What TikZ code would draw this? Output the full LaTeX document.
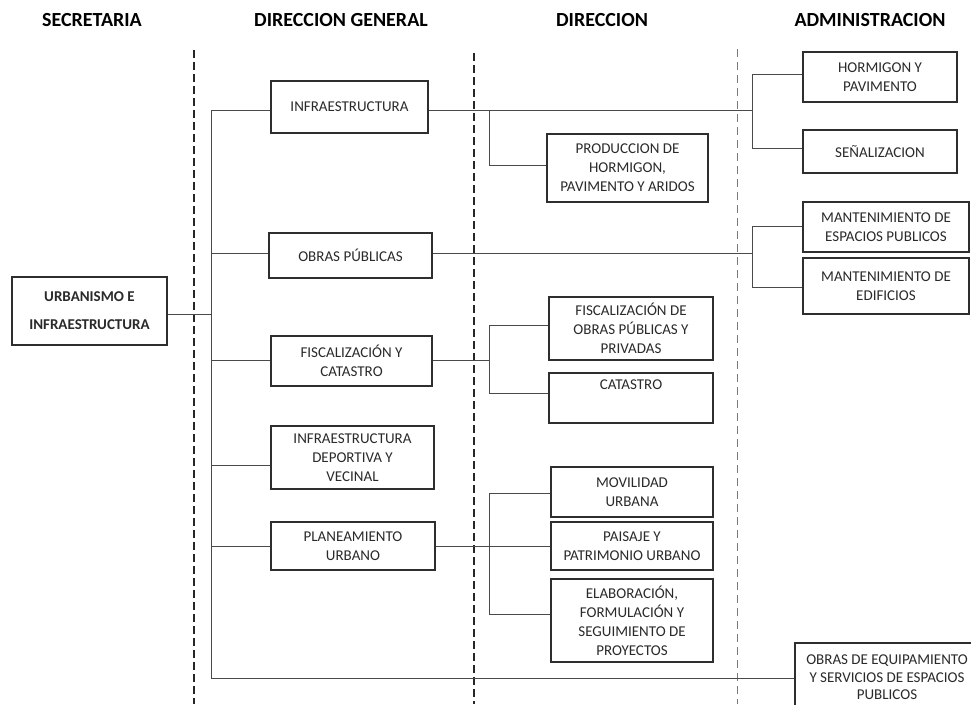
\documentclass[tikz,border=0pt]{standalone}
\usepackage{fontspec}
\setmainfont{Carlito}
\definecolor{boxc}{HTML}{2E2E2E}
\definecolor{connc}{HTML}{4A4A4A}
\definecolor{txtc}{HTML}{2A2A2A}
\definecolor{dashlight}{HTML}{7A7A7A}
\begin{document}
\begin{tikzpicture}[x=1pt,y=-1pt,
  box/.style={draw=boxc, line width=1.2pt, inner sep=0pt, align=center, text=txtc,
    font=\fontsize{15}{19}\selectfont},
  conn/.style={draw=connc, line width=1pt},
  head/.style={font=\fontsize{20}{24}\selectfont\bfseries, text=black, inner sep=0pt},
  divdark/.style={draw=black!85, line width=1.3pt, dash pattern=on 8pt off 4pt},
  divlight/.style={draw=dashlight, line width=1pt, dash pattern=on 8pt off 5pt}]
\useasboundingbox (0,0) rectangle (971,704);
\clip (0,0) rectangle (971,704);
\fill[white] (0,0) rectangle (971,704);

% headers
\node[head] (hSec) at (92,20) {SECRETARIA};
\node[head] (hDG) at (341,20) {DIRECCION GENERAL};
\node[head] (hDir) at (602,20) {DIRECCION};
\node[head] (hAdm) at (870,20) {ADMINISTRACION};

% column dividers
\draw[divdark] (194,50) -- (194,704);
\draw[divdark] (474,53) -- (474,704);
\draw[divlight] (737,49) -- (737,704);

% boxes
\node[box, font=\fontsize{15}{28}\selectfont\bfseries, minimum width=155, minimum height=68] (urb) at (89.5,311) {URBANISMO E\\INFRAESTRUCTURA};

\node[box, minimum width=157, minimum height=52] (dg1) at (349.5,107) {INFRAESTRUCTURA};
\node[box, minimum width=163, minimum height=45] (dg2) at (350.5,255.5) {OBRAS PÚBLICAS};
\node[box, minimum width=161, minimum height=50] (dg3) at (351.5,361) {FISCALIZACIÓN Y\\CATASTRO};
\node[box, minimum width=163, minimum height=63] (dg4) at (352.5,457.5) {INFRAESTRUCTURA\\DEPORTIVA Y\\VECINAL};
\node[box, minimum width=164, minimum height=48] (dg5) at (353,546) {PLANEAMIENTO\\URBANO};

\node[box, minimum width=161, minimum height=68] (d1) at (627.5,168) {PRODUCCION DE\\HORMIGON,\\PAVIMENTO Y ARIDOS};
\node[box, minimum width=164, minimum height=63] (d2) at (631,328.5) {FISCALIZACIÓN DE\\OBRAS PÚBLICAS Y\\PRIVADAS};
\node[box, minimum width=164, minimum height=50] (d3) at (631,398) {CATASTRO\\[8pt]};
\node[box, minimum width=162, minimum height=50] (d4) at (632,492) {MOVILIDAD\\URBANA};
\node[box, minimum width=162, minimum height=48] (d5) at (632,546) {PAISAJE Y\\PATRIMONIO URBANO};
\node[box, minimum width=162, minimum height=83] (d6) at (632,620.5) {ELABORACIÓN,\\FORMULACIÓN Y\\SEGUIMIENTO DE\\PROYECTOS};

\node[box, minimum width=154, minimum height=50] (a1) at (880,77) {HORMIGON Y\\PAVIMENTO};
\node[box, minimum width=154, minimum height=43] (a2) at (880,151.5) {SEÑALIZACION};
\node[box, minimum width=166, minimum height=50] (a3) at (886,227) {MANTENIMIENTO DE\\ESPACIOS PUBLICOS};
\node[box, minimum width=166, minimum height=56] (a4) at (886,286) {MANTENIMIENTO DE\\EDIFICIOS};
\node[box, minimum width=184, minimum height=77] (a5) at (887,681.5) {};
\node[align=center, text=txtc, inner sep=0pt, font=\fontsize{15}{17.5}\selectfont] (a5t) at (887,677.5) {OBRAS DE EQUIPAMIENTO\\Y SERVICIOS DE ESPACIOS\\PUBLICOS};

% main trunk
\coordinate (j0) at (211,314);
\coordinate (t1) at (211,110);
\coordinate (t2) at (211,253);
\coordinate (t3) at (211,360);
\coordinate (t4) at (211,465);
\coordinate (t5) at (211,546);
\coordinate (tB) at (211,678);
\draw[conn] (urb.east |- j0) -- (j0);
\draw[conn] (t1) -- (tB) -- (a5.west |- tB);
\draw[conn] (t1) -- (dg1.west |- t1);
\draw[conn] (t2) -- (dg2.west |- t2);
\draw[conn] (t3) -- (dg3.west |- t3);
\draw[conn] (t4) -- (dg4.west |- t4);
\draw[conn] (t5) -- (dg5.west |- t5);

% infraestructura branch
\coordinate (s1) at (489,110);
\coordinate (p1) at (489,165);
\coordinate (aT1) at (752,110);
\coordinate (a1j) at (752,74);
\coordinate (a2j) at (752,148);
\draw[conn] (dg1.east |- aT1) -- (aT1);
\draw[conn] (s1) -- (p1) -- (d1.west |- p1);
\draw[conn] (a1.west |- a1j) -- (a1j) -- (a2j) -- (a2.west |- a2j);

% obras publicas branch
\coordinate (aT2) at (752,253);
\coordinate (a3j) at (752,226);
\coordinate (a4j) at (752,287);
\draw[conn] (dg2.east |- aT2) -- (aT2);
\draw[conn] (a3.west |- a3j) -- (a3j) -- (a4j) -- (a4.west |- a4j);

% fiscalizacion branch
\coordinate (s3) at (489,360);
\coordinate (d2j) at (489,325);
\coordinate (d3j) at (489,393);
\draw[conn] (dg3.east |- s3) -- (s3);
\draw[conn] (d2.west |- d2j) -- (d2j) -- (d3j) -- (d3.west |- d3j);

% planeamiento branch
\coordinate (s5) at (489,546);
\coordinate (d4j) at (489,493);
\coordinate (d6j) at (489,614);
\draw[conn] (dg5.east |- s5) -- (d5.west |- s5);
\draw[conn] (d4.west |- d4j) -- (d4j) -- (d6j) -- (d6.west |- d6j);
\end{tikzpicture}
\end{document}
